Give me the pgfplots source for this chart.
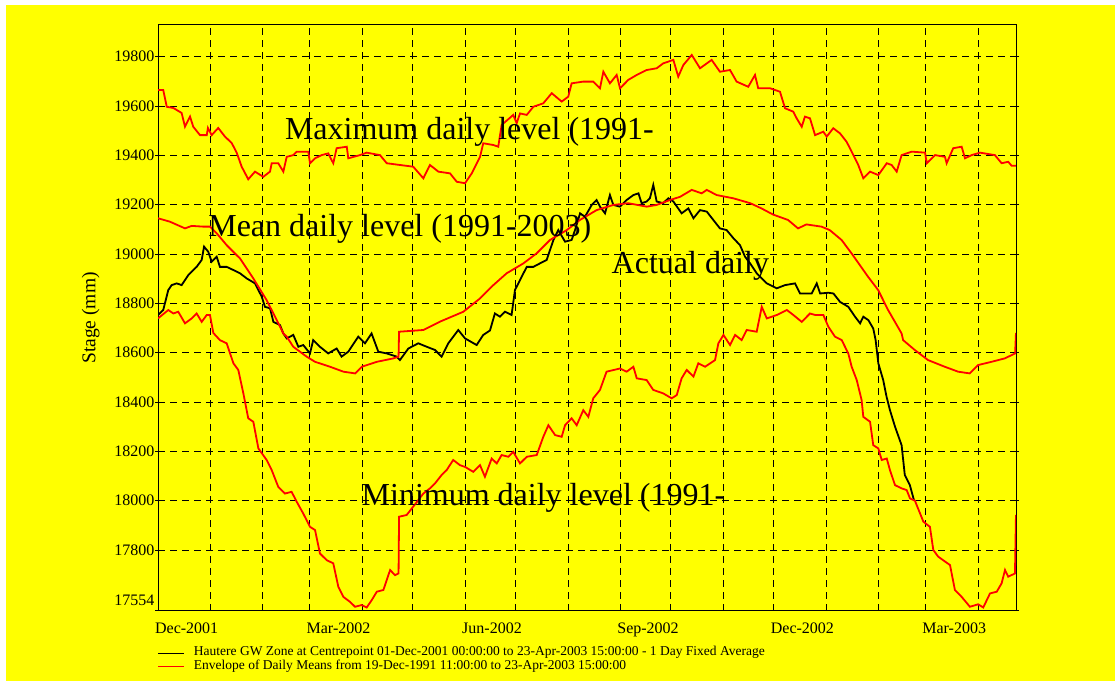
\documentclass[border=0pt]{standalone}
\usepackage{pgfplots}
\pgfplotsset{compat=1.18}
\usepackage{fontspec}
\setmainfont{Liberation Serif}
\definecolor{bgyellow}{RGB}{255,255,0}
\definecolor{envred}{RGB}{255,0,0}
\begin{document}
\begin{tikzpicture}
\useasboundingbox (0pt,0pt) rectangle (1115pt,681pt);
\fill[white] (0pt,0pt) rectangle (1115pt,681pt);
\fill[bgyellow] (6pt,0pt) rectangle (1115pt,676pt);
\begin{axis}[
  at={(158pt,70.3pt)}, anchor=south west,
  scale only axis, width=858pt, height=586.2pt,
  xmin=0, xmax=508.625, ymin=17554, ymax=19930.5,
  scaled y ticks=false, scaled x ticks=false,
  axis line style={black, line width=0.8pt},
  tick align=outside, major tick length=3pt,
  xtick={31,62,90,121,151,182,212,243,274,304,335,365,396,427,455,486},
  xticklabels={},
  xtick style={draw=none},
  extra x ticks={17,107,198,290.5,382,472},
  extra x tick labels={Dec-2001,Mar-2002,Jun-2002,Sep-2002,Dec-2002,Mar-2003},
  extra x tick style={grid=none},
  ytick={17800,18000,...,19800},
  yticklabels={17800,18000,18200,18400,18600,18800,19000,19200,19400,19600,19800},
  ytick style={black, line width=0.7pt},
  extra y ticks={17554}, extra y tick labels={17554},
  extra y tick style={grid=none, tick label style={yshift=10pt}},
  grid=major,
  major grid style={black, line width=0.7pt, dash pattern=on 7pt off 5pt},
  tick label style={font=\fontsize{16}{18}\selectfont},
  yticklabel style={inner xsep=0.5pt},
  xticklabel style={inner ysep=0pt, yshift=-9pt},
  legend style={at={(axis description cs:0,0)}, anchor=north west, yshift=-35.5pt,
    draw=none, fill=none, inner sep=0pt, outer sep=0pt,
    font=\fontsize{13.5}{14}\selectfont, row sep=0pt, column sep=9pt,
    nodes={inner sep=0pt, outer sep=0pt, text height=9.5pt, text depth=4.2pt}},
  legend cell align=left,
  legend image code/.code={\draw[#1, line width=0.9pt] (0pt,0pt) -- (26pt,0pt);},
]
% Actual daily (black)
\addplot[black, line width=1.8pt] coordinates {
(0,18753) (3.1,18773) (6.1,18854) (8.1,18874) (11.1,18881) (14,18874) (18,18915)
(22.9,18948) (25.9,18976) (27.3,19030) (29.8,19009) (31.8,18969) (34.8,18989)
(36.7,18948) (40.7,18948) (44.7,18935) (48.6,18922) (52.6,18901) (57.5,18881)
(61.5,18827) (63.4,18786) (66.4,18780) (68.4,18725) (72.3,18712) (74.3,18678)
(76.3,18658) (80.2,18672) (83.2,18624) (86.1,18631) (90.1,18597) (92,18651)
(96,18624) (100.9,18597) (105.9,18617) (108.8,18584) (112.8,18604) (118.7,18665)
(122.7,18638) (126.6,18678) (130.6,18604) (135.6,18597) (141.5,18584) (143.4,18570)
(148.4,18617) (154.3,18638) (159.3,18624) (164.2,18611) (168.1,18584) (172.1,18638)
(178,18692) (182,18658) (188.9,18631) (192.8,18672) (196.8,18690) (199.7,18759)
(202.7,18746) (205.7,18766) (209.6,18753) (211.6,18854) (215.6,18908) (218.6,18948)
(222.5,18948) (226.4,18962) (230.4,18976) (234.4,19057) (237.3,19097) (241.3,19050)
(245.2,19057) (247.2,19097) (250.2,19165) (253.1,19151) (257.1,19199) (260,19219)
(262,19192) (265,19165) (267.9,19239) (269.9,19199) (273.9,19192) (277.8,19219)
(281.8,19239) (284.8,19246) (286.7,19206) (289.7,19213) (291.6,19226) (293.6,19280)
(295.6,19213) (299.5,19206) (302.5,19226) (305.5,19213) (310.4,19165) (314.4,19185)
(317.4,19145) (321.3,19178) (325.3,19172) (329.2,19138) (333.1,19104) (337.1,19097)
(341.1,19064) (345,19036) (348,18989) (351,18962) (354.9,18922) (360.9,18881)
(366.8,18861) (371.7,18874) (377.6,18881) (380.6,18840) (387.5,18840) (390.5,18881)
(392.5,18840) (397.4,18843) (400.4,18840) (404.3,18806) (409.2,18786) (413.2,18746)
(416.2,18719) (418.1,18746) (421.1,18732) (424,18698) (425.4,18651) (427,18557)
(429.9,18489) (431.9,18421) (433.9,18367) (436.9,18300) (440.8,18225) (442.7,18104)
(445.7,18063) (448.1,18003)
};
\addlegendentry{Hautere GW Zone at Centrepoint 01-Dec-2001 00:00:00 to 23-Apr-2003 15:00:00 - 1 Day Fixed Average}
% Mean daily (red)
\addplot[envred, line width=1.8pt] coordinates {
(0,19145) (7.1,19131) (16,19104) (20,19114) (26.9,19111) (30.8,19111) (34.8,19084)
(40.7,19036) (48.6,18982) (56.5,18901) (64.4,18813) (70.4,18732) (74.3,18678)
(76.3,18665) (80.2,18624) (88.1,18584) (93.1,18563) (102,18543) (109.9,18523)
(116.9,18516) (120.8,18543) (129.7,18563) (139.6,18577) (142.6,18584) (142.9,18685)
(157.3,18692) (167.2,18726) (181,18766) (190.9,18820) (198.8,18874) (206.7,18922)
(216.6,18962) (224.5,19003) (232.4,19057) (242.3,19097) (250.1,19138) (260,19178)
(269.9,19199) (278.8,19206) (289.7,19192) (295.6,19199) (303.5,19219) (309.5,19232)
(316.4,19260) (322.3,19246) (325.3,19260) (331.2,19239) (341,19226) (351.1,19206)
(357.7,19185) (364.6,19160) (373.5,19138) (379.4,19104) (384.4,19120) (393.3,19111)
(398.2,19097) (405.2,19057) (411.1,19003) (420.9,18908) (426.9,18854) (432.8,18773)
(440.8,18678) (441.7,18651) (448.6,18611) (456.5,18570) (466.4,18543) (474.3,18523)
(481.2,18516) (486.2,18550) (494.1,18563) (502,18577) (508.1,18597) (508.6,18680)
};
\addlegendentry{Envelope of Daily Means from 19-Dec-1991 11:00:00 to 23-Apr-2003 15:00:00}
% Maximum daily (red)
\addplot[envred, line width=1.8pt, forget plot] coordinates {
(0,19665) (3.1,19665) (5.2,19597) (9.1,19592) (14,19572) (16,19516) (19,19557)
(20.9,19516) (24.9,19482) (28.9,19482) (29.6,19511) (31.8,19482) (35.7,19511)
(39.7,19476) (43.7,19450) (46.7,19410) (49.6,19354) (53.5,19303) (57.5,19334)
(62.4,19313) (66.4,19334) (67.4,19368) (71.3,19368) (74.3,19334) (76.3,19394)
(80.2,19401) (82.2,19415) (89.1,19415) (90.1,19368) (93.1,19388) (97,19401)
(100.9,19408) (103.9,19368) (105.9,19429) (111.9,19435) (112.8,19388) (119.7,19401)
(123.7,19411) (131.6,19401) (135.6,19368) (143.4,19361) (151.3,19354) (157.3,19307)
(161.2,19361) (166.2,19334) (173.1,19327) (177.1,19293) (182,19287) (186,19327)
(190.9,19394) (192.8,19449) (198.8,19442) (201.7,19435) (203.7,19523) (210.6,19564)
(212.6,19530) (214.6,19570) (218.6,19564) (222.5,19597) (228.4,19611) (233.4,19652)
(239.3,19618) (243.2,19638) (245.2,19692) (252.1,19699) (258,19699) (262,19672)
(264,19739) (267.9,19692) (271.9,19726) (273.9,19672) (278.8,19706) (283.8,19726)
(289.7,19746) (295.6,19753) (299.5,19773) (305.5,19787) (308.4,19719) (311.4,19766)
(316.4,19807) (321.3,19753) (328.2,19787) (333.1,19739) (339.1,19746) (343,19699)
(349.9,19678) (353.9,19726) (355.8,19672) (362.8,19672) (368.7,19658) (371.7,19591)
(376.6,19577) (378.6,19550) (381.6,19516) (383.5,19557) (386.5,19550) (389.5,19482)
(394.4,19496) (396.4,19476) (400.3,19510) (404.3,19489) (408.2,19455) (411.2,19415)
(415.1,19361) (418.1,19307) (422.1,19334) (427,19320) (432,19368) (434.9,19361)
(437.9,19334) (440.8,19401) (446.8,19415) (454.7,19411) (455.7,19368) (460.6,19401)
(466.5,19394) (467.5,19368) (471.4,19429) (476.4,19435) (478.4,19388) (482.3,19401)
(487.3,19411) (496.1,19401) (500.1,19368) (504,19374) (506,19358) (508.6,19358)
};
% Minimum daily (red)
\addplot[envred, line width=1.8pt, forget plot] coordinates {
(0,18739) (6.1,18773) (9.1,18759) (12,18766) (16,18719) (20,18739) (22.9,18759)
(25.9,18725) (28.9,18753) (30.8,18753) (32.8,18680) (36.7,18651) (40.7,18638)
(44.7,18557) (47.6,18530) (50.6,18435) (53.5,18334) (56.5,18320) (59.5,18212)
(64.4,18165) (67.4,18124) (71.3,18056) (75.3,18029) (79.2,18036) (82.2,17996)
(86.1,17948) (90.1,17894) (93.1,17881) (96,17786) (100,17759) (103.9,17746)
(106.9,17651) (109.9,17610) (113.8,17590) (116.8,17570) (120.8,17577) (123.7,17567)
(126.7,17597) (129.7,17631) (133.6,17638) (137.6,17719) (140.5,17698) (142.6,17705)
(142.9,17935) (147.4,17942) (151.3,17976) (157.3,18029) (161.2,18050) (164.2,18070)
(168.1,18104) (171.1,18124) (175,18165) (179,18144) (182,18137) (186.9,18117)
(190.9,18144) (193.8,18097) (197.8,18171) (200.8,18151) (203.7,18185) (207.7,18178)
(210.6,18198) (214.6,18151) (218.6,18178) (224.5,18185) (228.4,18259) (231.4,18306)
(235.4,18266) (239.3,18259) (241.3,18306) (245.2,18334) (248.2,18306) (252.1,18367)
(255.1,18340) (258,18415) (262,18449) (265.9,18523) (273.9,18536) (277.8,18523)
(281.8,18543) (283.8,18496) (289.7,18489) (293.6,18449) (299.5,18435) (304.5,18415)
(307.5,18428) (310.4,18496) (313.4,18530) (317.4,18503) (320.3,18557) (324.3,18543)
(330.2,18570) (332.2,18638) (335.2,18672) (339.1,18631) (342.1,18672) (346,18651)
(349,18692) (354.9,18685) (357.9,18786) (360.9,18739) (366.9,18753) (372.8,18773)
(376.6,18753) (381.6,18725) (386.5,18759) (389.5,18753) (394.4,18753) (397.4,18705)
(401.3,18665) (405.3,18651) (409.2,18597) (411.2,18543) (414.2,18489) (417.1,18408)
(418.1,18340) (422.1,18320) (424,18225) (427,18212) (429,18165) (432,18171)
(433.9,18124) (436.9,18063) (440.8,18050) (443.8,18043) (445.8,18009) (448.7,18000)
(453.7,17915) (457.6,17894) (459.6,17800) (462.5,17773) (469.5,17739) (472.4,17638)
(476.4,17610) (481.3,17570) (486.2,17580) (489.2,17567) (493.2,17624) (497.2,17631)
(500.1,17665) (502.1,17719) (504,17692) (508,17705) (508.6,17942)
};
\end{axis}
\begin{scope}[every node/.style={inner sep=0pt, outer sep=0pt, anchor=base west, font=\fontsize{32}{36}\selectfont}]
\node at (285pt,541pt) {Maximum daily level (1991-};
\node at (208.3pt,444.3pt) {Mean daily level (1991-2003)};
\node at (611.7pt,407pt) {Actual daily};
\node at (361.7pt,176pt) {Minimum daily level (1991-};
\end{scope}
\node[rotate=90, inner sep=0pt, font=\fontsize{19.5}{21}\selectfont] at (90.7pt,363pt) {Stage (mm)};
\end{tikzpicture}
\end{document}
